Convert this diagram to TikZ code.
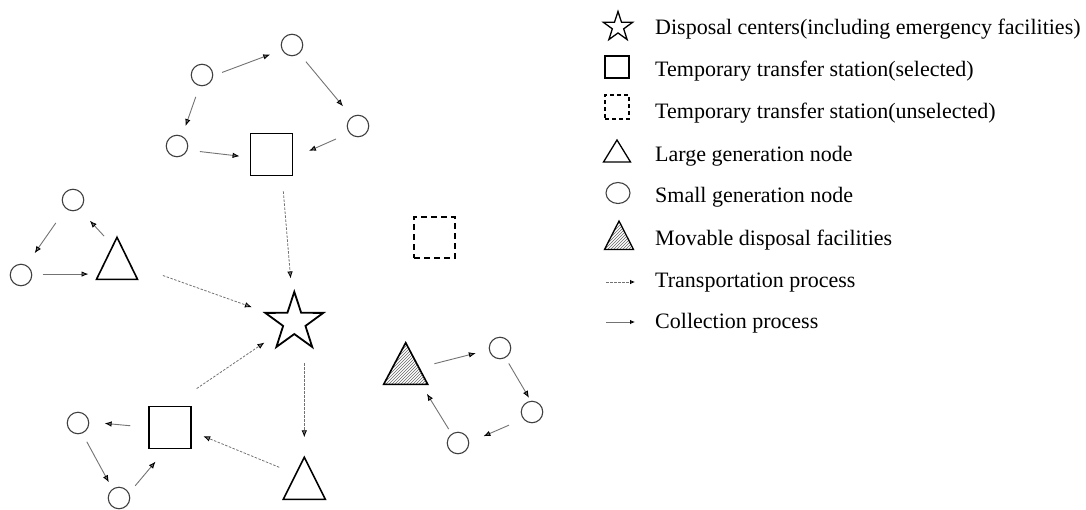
\documentclass[tikz,border=0pt]{standalone}
\usepackage{fontspec}
\setmainfont{Liberation Serif}
\usetikzlibrary{arrows.meta,calc,patterns,shapes.geometric}
\tikzset{
  sgen/.style={circle,draw=black!75,line width=1.1pt,minimum size=21.5pt,inner sep=0pt,outer sep=0pt},
  selts/.style={rectangle,draw=black,line width=1.5pt,minimum size=42pt,inner sep=0pt,outer sep=0pt},
  unselts/.style={selts,dash pattern=on 6pt off 4pt},
  lgen/.style={isosceles triangle,isosceles triangle stretches,shape border rotate=90,draw=black,line width=1.6pt,minimum width=41pt,minimum height=42pt,inner sep=0pt,outer sep=0pt},
  movdf/.style={lgen,pattern=north east lines,pattern color=black!60},
  dispc/.style={star,star points=5,star point ratio=2.6,draw=black,line width=1.8pt,minimum size=61pt,inner sep=0pt,outer sep=0pt},
  coll/.style={black!55,line width=0.9pt,-{Latex[black,length=7pt,width=5.5pt]}},
  trans/.style={black!55,line width=0.8pt,dash pattern=on 2.5pt off 1.5pt,-{Latex[black,length=7pt,width=5.5pt]}},
  legtext/.style={anchor=base west,inner sep=0pt},
}
\begin{document}
\begin{tikzpicture}[x=1pt,y=-1pt,font=\fontsize{22}{26}\selectfont]
\useasboundingbox (0,0) rectangle (1086,509);
% disposal center and transfer stations
\node (dc) [dispc] at (294.3,322.3) {};
\node (ts1) [selts] at (271.5,154.5) {};
\node (ts2) [selts] at (170.2,427.5) {};
\node (tu) [unselts,minimum size=41pt] at (434.5,237.5) {};
%
\node (lg1) [lgen,anchor=apex] at (117,237.3) {};
\node (lg2) [lgen,anchor=apex,minimum width=42pt] at (304.3,457.3) {};
\node (mv) [movdf,anchor=apex,minimum width=44pt,minimum height=41.6pt] at (405.7,342.7) {};
%
\node (sg1) [sgen] at (202,75) {};
\node (sg2) [sgen] at (292,45) {};
\node (sg3) [sgen] at (358,126) {};
\node (sg4) [sgen] at (177,146) {};
\node (sg5) [sgen] at (73,200) {};
\node (sg6) [sgen] at (21,275) {};
\node (sg7) [sgen] at (78,423) {};
\node (sg8) [sgen] at (119,498) {};
\node (sg9) [sgen] at (500,348) {};
\node (sg10) [sgen] at (532,412) {};
\node (sg11) [sgen] at (458,443) {};
%
% collection
\path[coll] (sg1.-5) edge[shorten <=10pt,shorten >=13pt] (sg2.207);
\path[coll] (sg1.-102) edge[shorten <=12pt,shorten >=11pt] (sg4.63);
\path[coll] (sg2.-50) edge[shorten <=11pt,shorten >=14pt] (sg3.124);
\path[coll] (sg4.-22) edge[shorten <=13pt,shorten >=11pt] (ts1.-172);
\path[coll] (sg3.220) edge[shorten <=15pt,shorten >=18pt] (ts1.-10);
%
\path[coll] (sg5.230) edge[shorten <=18pt,shorten >=15pt] (sg6.62);
\path[coll] (sg6.5) edge[shorten <=11pt,shorten >=8pt] (sg6.5 -| lg1.left corner);
\path[coll] ($(lg1.apex)!0.2!(lg1.left corner)$) edge[shorten <=13pt,shorten >=16pt] (sg5.-56);
%
\path[coll] (ts2.west) edge[shorten <=19pt,shorten >=16pt] (sg7.6);
\path[coll] (sg7.-68) edge[shorten <=10pt,shorten >=8pt] (sg8.126);
\path[coll] (sg8.25) edge[shorten <=10pt,shorten >=17pt] (ts2.-100);
%
\path[coll] ($(mv.apex)!0.6!(mv.right corner)$) edge[shorten <=16pt,shorten >=14pt] (sg9.-171);
\path[coll] (sg9.-61) edge[shorten <=7pt,shorten >=4pt] (sg10.95);
\path[coll] (sg10.-141) edge[shorten <=16pt,shorten >=16pt] (sg11.2);
\path[coll] (sg11.125) edge[shorten <=6pt,shorten >=11pt] ($(mv.right corner)!0.15!(mv.left corner)$);
%
% transportation
\path[trans] ($(ts1.south)!0.5!(ts1.south east)$) edge[shorten <=16pt,shorten >=44pt] (dc.center);
\path[trans] ($(lg1.apex)!0.63!(lg1.right corner)$) edge[shorten <=35pt,shorten >=45pt] (dc.center);
\path[trans] (ts2.north) edge[shorten <=32pt,shorten >=36pt] (dc.center);
\path[trans] (lg2.apex |- dc.center) edge[shorten <=41pt,shorten >=20pt] (lg2.apex);
\path[trans] ($(lg2.apex)!0.4!(lg2.left corner)$) edge[shorten <=18pt,shorten >=13pt] (ts2.-10);
%
% legend
\node (ldc) [dispc,minimum size=31pt,line width=1.3pt] at (618,27) {};
\node (lts) [selts,minimum width=24pt,minimum height=22pt,line width=1.3pt] at (617,67) {};
\node (ltu) [unselts,minimum width=24pt,minimum height=24pt,line width=1.3pt,dash pattern=on 4pt off 3pt] at (617,107) {};
\node (llg) [lgen,anchor=apex,minimum width=27pt,minimum height=22pt,line width=1.3pt] at (617,140) {};
\node (lsg) [ellipse,draw=black!75,line width=1.1pt,minimum width=24pt,minimum height=21pt,inner sep=0pt] at (618,193) {};
\node (lmv) [movdf,anchor=apex,minimum width=29pt,minimum height=28.5pt,line width=1.3pt] at (619,221) {};
\coordinate (lt1) at (606,282);
\coordinate (lt2) at (635,282);
\coordinate (lc1) at (606,322);
\coordinate (lc2) at (635,322);
\path[trans,-{Latex[black,length=5pt,width=4.5pt]}] (lt1) edge (lt2);
\path[coll,-{Latex[black,length=5pt,width=4.5pt]}] (lc1) edge (lc2);
%
\node (t1) [legtext] at (655,34.3) {Disposal centers(including emergency facilities)};
\node (t2) [legtext] at (655,76) {Temporary transfer station(selected)};
\node (t3) [legtext] at (655,118.3) {Temporary transfer station(unselected)};
\node (t4) [legtext] at (655,161) {Large generation node};
\node (t5) [legtext] at (655,202.3) {Small generation node};
\node (t6) [legtext] at (655,245) {Movable disposal facilities};
\node (t7) [legtext] at (655,287.3) {Transportation process};
\node (t8) [legtext] at (655,328.3) {Collection process};
\end{tikzpicture}
\end{document}
